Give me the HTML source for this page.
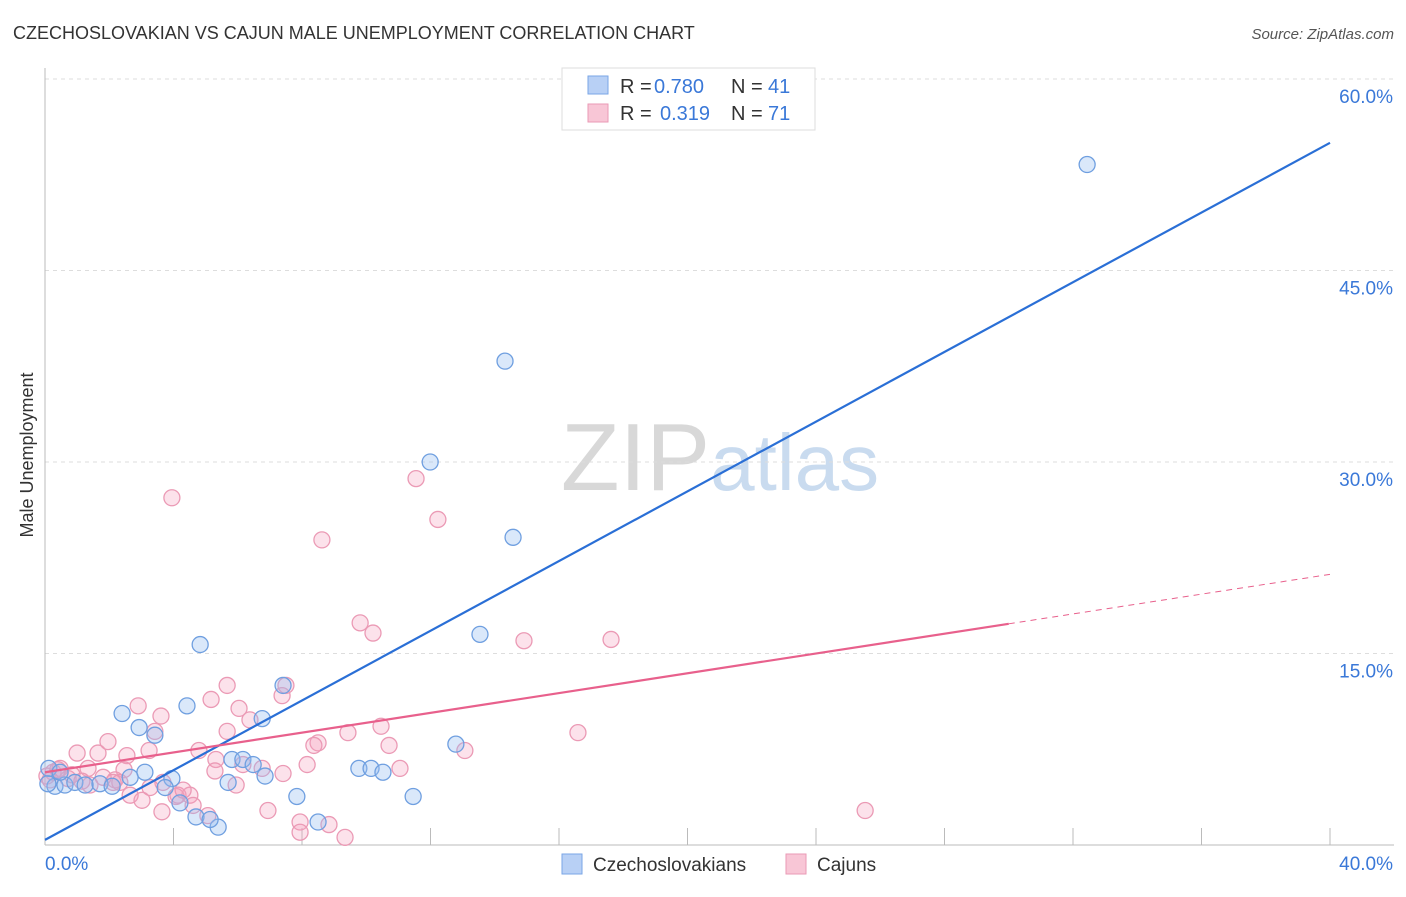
<!DOCTYPE html>
<html><head><meta charset="utf-8"><style>
body{margin:0;background:#fff;font-family:"Liberation Sans",sans-serif}
svg text{font-family:"Liberation Sans",sans-serif}
</style></head><body>
<svg id="chart" width="1406" height="892" viewBox="0 0 1406 892">
<text x="13" y="39" font-size="18" fill="#333">CZECHOSLOVAKIAN VS CAJUN MALE UNEMPLOYMENT CORRELATION CHART</text>
<text x="1394" y="39" font-size="15" fill="#555" font-style="italic" text-anchor="end">Source: ZipAtlas.com</text>
<text x="33" y="455" font-size="18" fill="#333" text-anchor="middle" transform="rotate(-90 33 455)">Male Unemployment</text>
<text x="720" y="490" font-size="96" fill="#ddd" text-anchor="middle" font-family="Liberation Serif"><tspan fill="#d8d8d8">ZIP</tspan><tspan fill="#c9dbef" font-family="Liberation Sans" font-size="80">atlas</tspan></text>
<g id="grid"></g><g id="marks"></g><g id="lines"></g>
<g>
<rect x="562" y="68" width="253" height="62" fill="#fff" stroke="#ddd"/>
<rect x="588" y="76" width="20" height="18" fill="#b8d0f5" stroke="#7aa6e6"/>
<rect x="588" y="104" width="20" height="18" fill="#f8c6d6" stroke="#ea9ab5"/>
<g font-size="20">
<text x="620" y="93" fill="#333">R =</text><text x="654" y="93" fill="#3a78d8">0.780</text>
<text x="731" y="93" fill="#333">N =</text><text x="768" y="93" fill="#3a78d8">41</text></g>
<g font-size="20">
<text x="620" y="120" fill="#333">R =</text><text x="660" y="120" fill="#3a78d8">0.319</text>
<text x="731" y="120" fill="#333">N =</text><text x="768" y="120" fill="#3a78d8">71</text></g>
</g>
<g>
<rect x="562" y="854" width="20" height="20" fill="#b8d0f5" stroke="#7aa6e6"/>
<text x="593" y="871" font-size="19" fill="#333">Czechoslovakians</text>
<rect x="786" y="854" width="20" height="20" fill="#f8c6d6" stroke="#ea9ab5"/>
<text x="817" y="871" font-size="19" fill="#333">Cajuns</text>
</g>
</svg>
<script>
const yTicks=[15,30,45,60];
const yTickLabels=["15.0%","30.0%","45.0%","60.0%"];
const xTicks=[0,4,8,12,16,20,24,28,32,36,40];
const czX=[32.44,14.32,11.99,14.57,13.54,4.83,7.41,2.40,4.42,6.76,2.93,3.42,12.79,5.82,6.16,6.48,6.85,3.11,3.95,9.77,10.15,10.52,5.70,7.84,11.46,8.50,4.70,5.39,4.20,3.74,0.12,0.31,0.62,0.93,1.25,1.71,2.09,2.65,0.09,0.47,5.14];
const czY=[53.3,37.9,30.0,24.1,16.5,15.7,12.5,10.3,10.9,9.9,9.2,8.6,7.9,6.7,6.7,6.3,5.4,5.7,5.2,6.0,6.0,5.7,4.9,3.8,3.8,1.8,2.2,1.4,3.3,4.5,6.0,4.6,4.7,4.9,4.7,4.8,4.6,5.3,4.8,5.7,2.0];
const cjX=[3.95,11.55,12.23,8.62,9.81,10.21,14.91,17.62,5.67,7.50,7.38,5.17,6.04,2.90,3.61,6.38,16.59,10.46,9.43,5.67,3.42,8.50,8.37,10.71,13.07,1.96,4.79,3.24,1.00,1.65,2.55,5.32,6.16,11.05,8.16,6.76,7.41,5.29,2.46,1.34,0.47,0.25,0.06,1.81,2.18,0.72,1.40,2.33,5.95,3.67,4.14,4.51,2.65,3.02,4.08,4.30,4.61,3.64,5.07,6.94,7.94,8.84,7.94,9.34,25.53,0.40,0.84,0.16,1.15,2.12,3.27];
const cjY=[27.2,28.7,25.5,23.9,17.4,16.6,16.0,16.1,12.5,12.5,11.7,11.4,10.7,10.9,10.1,9.8,8.8,9.3,8.8,8.9,8.9,8.0,7.8,7.8,7.4,8.1,7.4,7.4,7.2,7.2,7.0,6.7,6.3,6.0,6.3,6.0,5.6,5.8,5.9,6.0,6.0,5.7,5.4,5.3,5.1,5.2,4.7,4.9,4.7,4.9,3.9,3.9,3.9,3.5,3.8,4.3,3.1,2.6,2.3,2.7,1.8,1.6,1.0,0.6,2.7,5.9,5.5,5.1,5.0,4.9,4.5];
const czTrend=[0.4,55.0];
const cjTrend=[5.7,21.2];
const cjSolidEnd=30;
const X=v=>45+v/40*1285, Y=v=>845-v/15*191.5;
const NS="http://www.w3.org/2000/svg";
function mk(t,a,p){const e=document.createElementNS(NS,t);for(const k in a)e.setAttribute(k,a[k]);p.appendChild(e);return e;}
const grid=document.getElementById('grid'),marks=document.getElementById('marks'),lines=document.getElementById('lines');
yTicks.forEach((t,i)=>{
 const l=mk('line',{x1:45,x2:1394,y1:Y(t),y2:Y(t),stroke:'#ddd','stroke-dasharray':'4,4'},grid);
 
 
 const tx=mk('text',{x:1393,y:Y(t)+24,'font-size':19,fill:'#3a78d8','text-anchor':'end'},grid);
 tx.textContent=yTickLabels[i];
 
 
});
const ax=mk('line',{x1:45,x2:45,y1:68,y2:845,stroke:'#bbb'},grid);


const bx=mk('line',{x1:45,x2:1394,y1:845,y2:845,stroke:'#bbb'},grid);


xTicks.slice(1).forEach(t=>{
 const l=mk('line',{x1:X(t),x2:X(t),y1:828,y2:845,stroke:'#bbb'},grid);
 
 
});
const xl0=mk('text',{x:45,y:870,'font-size':19,fill:'#3a78d8'},grid);xl0.textContent='0.0%';


const xl1=mk('text',{x:1393,y:870,'font-size':19,fill:'#3a78d8','text-anchor':'end'},grid);xl1.textContent='40.0%';


cjX.forEach((x,i)=>{
 const c=mk('circle',{cx:X(x),cy:Y(cjY[i]),r:8,fill:'rgba(244,160,188,0.3)',stroke:'#eb9ab5','stroke-width':1.3},marks);
 
 
});
czX.forEach((x,i)=>{
 const c=mk('circle',{cx:X(x),cy:Y(czY[i]),r:8,fill:'rgba(150,188,240,0.35)',stroke:'#6f9fe0','stroke-width':1.3},marks);
 
 
});
const bl=mk('line',{x1:X(0),y1:Y(czTrend[0]),x2:X(40),y2:Y(czTrend[1]),stroke:'#2a6fd6','stroke-width':2.2},lines);


const cjAt=x=>cjTrend[0]+(cjTrend[1]-cjTrend[0])*x/40;
const pl=mk('line',{x1:X(0),y1:Y(cjAt(0)),x2:X(cjSolidEnd),y2:Y(cjAt(cjSolidEnd)),stroke:'#e8608c','stroke-width':2.2},lines);


const pd=mk('line',{x1:X(cjSolidEnd),y1:Y(cjAt(cjSolidEnd)),x2:X(40),y2:Y(cjAt(40)),stroke:'#e8608c','stroke-width':1,'stroke-dasharray':'6,5'},lines);


</script>
</body></html>
